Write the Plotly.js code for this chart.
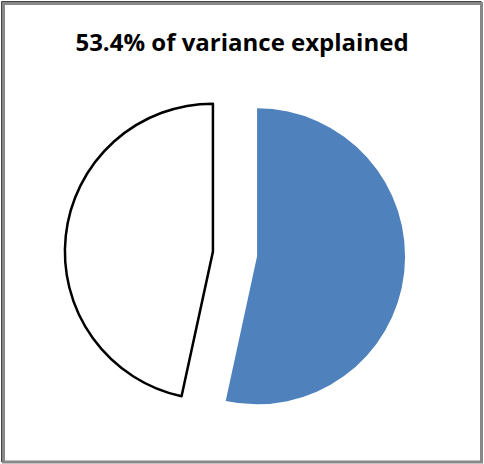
<!DOCTYPE html>
<html>
<head>
<meta charset="utf-8">
<script src="https://cdn.plot.ly/plotly-3.0.1.min.js"></script>
<style>
  html, body { margin: 0; padding: 0; background: #fff; }
  #chart { width: 484px; height: 464px; }
</style>
</head>
<body>
<div id="chart"></div>
<script>
// Share of variance: explained vs. unexplained
const labels = ['Explained', 'Unexplained'];
const values = [53.4, 46.6];
const sliceColors = ['#4F81BD', '#FFFFFF'];
const titleText = '53.4% of variance explained';

const W = 484, H = 464;
const px = x => x / W;
const py = y => 1 - y / H;

const trace = {
  type: 'pie',
  labels: labels,
  values: values,
  sort: false,
  direction: 'clockwise',
  rotation: 0,
  pull: [0.15, 0.15],
  textinfo: 'none',
  hoverinfo: 'label+percent',
  showlegend: false,
  marker: {
    colors: sliceColors,
    line: { color: ['rgba(0,0,0,0)', '#000000'], width: [0, 2.5] }
  },
  domain: { x: [px(64.8), px(405.2)], y: [py(424.2), py(83.8)] }
};

const layout = {
  width: W,
  height: H,
  margin: { l: 0, r: 0, t: 0, b: 0 },
  paper_bgcolor: '#ffffff',
  title: {
    text: '<b>' + titleText + '</b>',
    font: { family: '"Open Sans", sans-serif', size: 24, color: '#000000' },
    x: px(242), xanchor: 'center',
    y: py(43), yanchor: 'middle'
  },
  shapes: [
    { type: 'rect', xref: 'paper', yref: 'paper',
      x0: px(3.5), x1: px(481.5), y0: py(462), y1: py(3.5),
      line: { color: '#888888', width: 3 }, fillcolor: 'rgba(0,0,0,0)' },
    { type: 'line', xref: 'paper', yref: 'paper',
      x0: px(1.5), x1: px(1.5), y0: py(462), y1: py(1.5),
      line: { color: '#444444', width: 1 } },
    { type: 'line', xref: 'paper', yref: 'paper',
      x0: px(1.5), x1: px(481.5), y0: py(1.5), y1: py(1.5),
      line: { color: '#444444', width: 1 } }
  ]
};

Plotly.newPlot('chart', [trace], layout, { displayModeBar: false, staticPlot: true });
</script>
</body>
</html>
